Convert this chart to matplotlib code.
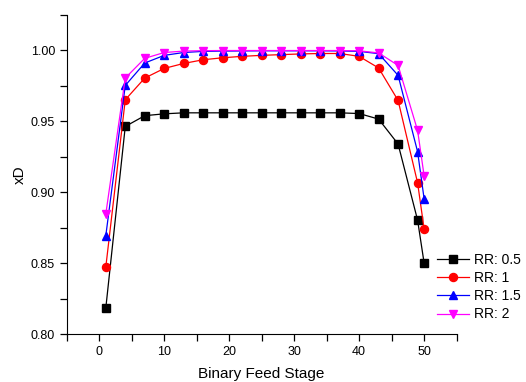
import matplotlib
matplotlib.use('Agg')
import matplotlib.pyplot as plt
from matplotlib.ticker import MultipleLocator

plt.rcParams['font.family'] = ['Liberation Sans', 'DejaVu Sans']

# feed stage positions
stages = [1, 4, 7, 10, 13, 16, 19, 22, 25, 28, 31, 34, 37, 40, 43, 46, 49, 50]

# distillate purity for each reflux ratio
xd_05 = [0.8183, 0.9464, 0.9540, 0.9553, 0.9560, 0.9560, 0.9560, 0.9560, 0.9560,
         0.9560, 0.9560, 0.9560, 0.9560, 0.9555, 0.9516, 0.9340, 0.8804, 0.8503]
xd_1 = [0.8472, 0.9652, 0.9805, 0.9873, 0.9908, 0.9934, 0.9948, 0.9958, 0.9965,
        0.9970, 0.9975, 0.9978, 0.9978, 0.9958, 0.9876, 0.9647, 0.9067, 0.8743]
xd_15 = [0.8693, 0.9753, 0.9911, 0.9965, 0.9985, 0.9993, 0.9995, 0.9996, 0.9997,
         0.9997, 0.9997, 0.9997, 0.9996, 0.9993, 0.9977, 0.9824, 0.9286, 0.8956]
xd_2 = [0.8846, 0.9805, 0.9944, 0.9985, 0.9995, 0.9998, 0.9999, 0.9999, 0.9999,
        0.9999, 0.9999, 0.9999, 0.9999, 0.9997, 0.9982, 0.9894, 0.9436, 0.9118]

labels = ['RR: 0.5', 'RR: 1', 'RR: 1.5', 'RR: 2']

fig = plt.figure(figsize=(5.26, 3.82), dpi=100)
ax = fig.add_axes([0.127, 0.125, 0.741, 0.836])

ax.plot(stages, xd_05, color='black', marker='s', ms=5.2, lw=0.9, label=labels[0])
ax.plot(stages, xd_1, color='red', marker='o', ms=5.8, lw=0.9, label=labels[1])
ax.plot(stages, xd_15, color='blue', marker='^', ms=6.3, lw=0.9, label=labels[2])
ax.plot(stages, xd_2, color='magenta', marker='v', ms=6.3, lw=0.9, label=labels[3])

ax.set_xlim(-5, 55)
ax.set_ylim(0.80, 1.025)
ax.xaxis.set_major_locator(MultipleLocator(10))
ax.xaxis.set_minor_locator(MultipleLocator(5))
ax.yaxis.set_minor_locator(MultipleLocator(0.025))
ax.set_yticks([0.80, 0.85, 0.90, 0.95, 1.00])
ax.set_yticklabels(['0.80', '0.85', '0.90', '0.95', '1.00'])

ax.spines['top'].set_visible(False)
ax.spines['right'].set_visible(False)
ax.tick_params(which='both', direction='out', labelsize=9, width=0.9, length=5)

ax.set_xlabel('Binary Feed Stage', fontsize=11, labelpad=6.5)
ax.set_ylabel('xD', fontsize=11, labelpad=3)

ax.legend(loc='upper left', bbox_to_anchor=(0.8185, 0.356), bbox_transform=fig.transFigure,
          frameon=False, fontsize=10, handlelength=2.3, handletextpad=0.3,
          labelspacing=0.3, borderpad=0)

fig.savefig('out.png', dpi=100)
